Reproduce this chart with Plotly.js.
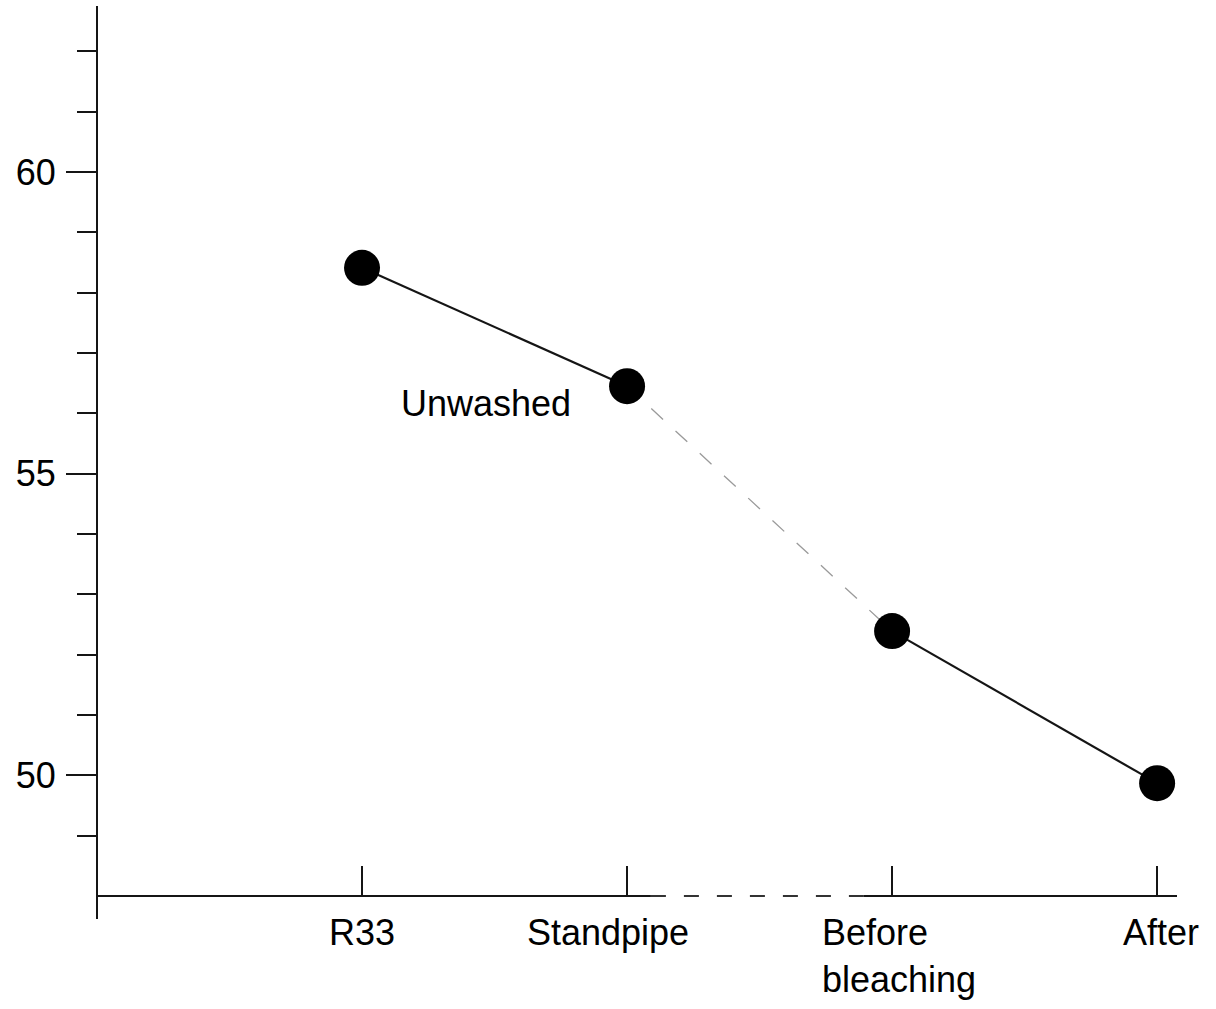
<!DOCTYPE html>
<html>
<head>
<meta charset="utf-8">
<script src="https://cdn.plot.ly/plotly-3.0.1.min.js"></script>
<style>html,body{margin:0;padding:0;background:#fff;}#chart{width:1216px;height:1009px;}</style>
</head>
<body>
<div id="chart"></div>
<script>
// ---- data ----
const categories = ["R33", "Standpipe", "Before bleaching", "After"];
const tickLabels = ["R33", "Standpipe", "Before<br>bleaching", "After"];
const values = [58.41, 56.45, 52.39, 49.87];
const seriesLabel = "Unwashed";
const yMajorTicks = [50, 55, 60];
const yMinorTicks = [49, 51, 52, 53, 54, 56, 57, 58, 59, 61, 62];

const FONT = "Liberation Sans, Arial, sans-serif";
const INK = "#151515";

const traces = [
  { x: categories.slice(0, 2), y: values.slice(0, 2), type: "scatter", mode: "lines",
    line: { color: INK, width: 2.2 }, hoverinfo: "skip", showlegend: false },
  { x: categories.slice(1, 3), y: values.slice(1, 3), type: "scatter", mode: "lines",
    line: { color: "#9a9a9a", width: 1.3, dash: "16px,17px" }, hoverinfo: "skip", showlegend: false },
  { x: categories.slice(2, 4), y: values.slice(2, 4), type: "scatter", mode: "lines",
    line: { color: INK, width: 2.2 }, hoverinfo: "skip", showlegend: false },
  { x: categories, y: values, type: "scatter", mode: "markers", name: seriesLabel,
    marker: { color: "#000", size: 36 }, showlegend: false, cliponaxis: false }
];

const labelShifts = [
  { xanchor: "center", align: "center", xshift: 0 },
  { xanchor: "center", align: "center", xshift: -19 },
  { xanchor: "left", align: "left", xshift: -72 },
  { xanchor: "center", align: "center", xshift: 4 }
];

const annotations = categories.map((c, i) => ({
  x: i, xref: "x", y: 0, yref: "paper", yanchor: "top", yshift: -14,
  text: tickLabels[i], showarrow: false,
  xanchor: labelShifts[i].xanchor, align: labelShifts[i].align, xshift: labelShifts[i].xshift,
  font: { family: FONT, size: 36, color: "#000" }
}));
annotations.push({
  x: 0.468, xref: "x", y: 56.17, yref: "y", text: seriesLabel, showarrow: false,
  xanchor: "center", yanchor: "middle",
  font: { family: FONT, size: 36, color: "#000" }
});

const shapes = [
  { type: "line", xref: "paper", yref: "paper", x0: 0, x1: 0, y0: -0.0258, y1: 1,
    line: { color: INK, width: 2 } },
  { type: "line", xref: "x", yref: "paper", x0: -1, x1: 1.09, y0: 0, y1: 0,
    line: { color: INK, width: 2 } },
  { type: "line", xref: "x", yref: "paper", x0: 1.09, x1: 1.894, y0: 0, y1: 0,
    line: { color: "#333", width: 2, dash: "15px,18px" } },
  { type: "line", xref: "x", yref: "paper", x0: 1.894, x1: 3.075, y0: 0, y1: 0,
    line: { color: INK, width: 2 } }
];

const layout = {
  width: 1216, height: 1009,
  margin: { l: 97, r: 39, t: 6, b: 113 },
  paper_bgcolor: "#fff", plot_bgcolor: "#fff",
  showlegend: false,
  font: { family: FONT, size: 36, color: "#000" },
  xaxis: {
    type: "category", categoryarray: categories, categoryorder: "array",
    range: [-1, 3.075], showgrid: false, zeroline: false, showline: false,
    ticks: "inside", ticklen: 30, tickwidth: 2, tickcolor: INK,
    showticklabels: false, fixedrange: true
  },
  yaxis: {
    range: [48, 62.75], showgrid: false, zeroline: false, showline: false,
    tickmode: "array", tickvals: yMajorTicks, ticktext: yMajorTicks.map(String),
    ticks: "outside", ticklen: 30, tickwidth: 2, tickcolor: INK,
    ticklabelstandoff: 3,
    tickfont: { family: FONT, size: 36, color: "#000" },
    minor: { tickmode: "array", tickvals: yMinorTicks, ticks: "outside", ticklen: 19, tickwidth: 2, tickcolor: INK, showgrid: false },
    fixedrange: true
  },
  annotations: annotations,
  shapes: shapes
};

Plotly.newPlot("chart", traces, layout, { displayModeBar: false, staticPlot: true });
</script>
</body>
</html>
